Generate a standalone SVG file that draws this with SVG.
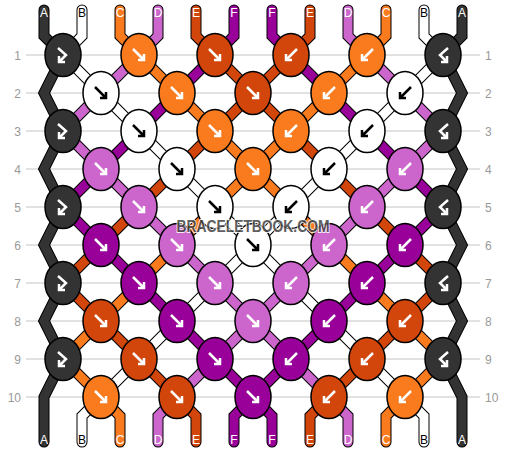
<svg xmlns="http://www.w3.org/2000/svg" width="506" height="452" viewBox="0 0 506 452">
<style>
.grid{stroke:#c4c4c4;stroke-width:1}
.num{font-family:"Liberation Sans",Arial,sans-serif;font-size:12px;fill:#999}
.nl{text-anchor:end}
.ol{fill:none;stroke:#000;stroke-width:11;stroke-linecap:round;stroke-linejoin:miter}
.st{fill:none;stroke-width:9;stroke-linecap:round;stroke-linejoin:miter}
.k{stroke:#000;stroke-width:1.5}
.lbl{font-family:"Liberation Sans",Arial,sans-serif;font-size:12px;text-anchor:middle;fill:#fff}
.lb{fill:#000}
.aw{fill:none;stroke:#fff;stroke-width:2.5}
.ab{fill:none;stroke:#000;stroke-width:2.5}
.sA{stroke:#333}.sB{stroke:#fff}.sC{stroke:#f97b1e}.sD{stroke:#cc66cc}.sE{stroke:#d2460c}.sF{stroke:#990099}
.cA{fill:#333}.cB{fill:#fff}.cC{fill:#f97b1e}.cD{fill:#cc66cc}.cE{fill:#d2460c}.cF{fill:#990099}
.wm{font-family:"Liberation Sans",Arial,sans-serif;font-weight:bold;font-size:17px;fill:#444;stroke:#fff;stroke-width:2;paint-order:stroke;opacity:0.85}
</style>
<defs>
<path id="fw" d="M-6,-6L5,5M-1,5H5V-1"/>
<path id="bw" d="M6,-6L-5,5M1,5H-5V-1"/>
<path id="fb" d="M-5,-7L3,0L-4,7M-4,1V7H2"/>
<path id="bf" d="M5,-7L-3,0L4,7M4,1V7H-2"/>
<ellipse id="kn" cx="0" cy="0" rx="18" ry="21.5"/>
</defs>
<g id="grid">
<line class="grid" x1="26" y1="55" x2="480" y2="55"/>
<line class="grid" x1="26" y1="93" x2="480" y2="93"/>
<line class="grid" x1="26" y1="131" x2="480" y2="131"/>
<line class="grid" x1="26" y1="169" x2="480" y2="169"/>
<line class="grid" x1="26" y1="207" x2="480" y2="207"/>
<line class="grid" x1="26" y1="245" x2="480" y2="245"/>
<line class="grid" x1="26" y1="283" x2="480" y2="283"/>
<line class="grid" x1="26" y1="321" x2="480" y2="321"/>
<line class="grid" x1="26" y1="359" x2="480" y2="359"/>
<line class="grid" x1="26" y1="397" x2="480" y2="397"/>
<text class="num nl" x="21" y="59.5">1</text><text class="num" x="485" y="59.5">1</text>
<text class="num nl" x="21" y="97.5">2</text><text class="num" x="485" y="97.5">2</text>
<text class="num nl" x="21" y="135.5">3</text><text class="num" x="485" y="135.5">3</text>
<text class="num nl" x="21" y="173.5">4</text><text class="num" x="485" y="173.5">4</text>
<text class="num nl" x="21" y="211.5">5</text><text class="num" x="485" y="211.5">5</text>
<text class="num nl" x="21" y="249.5">6</text><text class="num" x="485" y="249.5">6</text>
<text class="num nl" x="21" y="287.5">7</text><text class="num" x="485" y="287.5">7</text>
<text class="num nl" x="21" y="325.5">8</text><text class="num" x="485" y="325.5">8</text>
<text class="num nl" x="21" y="363.5">9</text><text class="num" x="485" y="363.5">9</text>
<text class="num nl" x="21" y="401.5">10</text><text class="num" x="485" y="401.5">10</text>
</g>
<g id="connectors">
<g class="ol">
<path id="oA1" d="M44,10V36L63,55L44,93L63,131L44,169L63,207L44,245L63,283L44,321L63,359L44,397V442"/>
<path d="M462,10V36L443,55L462,93L443,131L462,169L443,207L462,245L443,283L462,321L443,359L462,397V442"/>
<path d="M82,10V36L63,55L101,93L139,131L177,169L215,207L253,245L291,283L329,321L367,359L405,397L424,416V442"/>
<path d="M424,10V36L443,55L405,93L367,131L329,169L291,207L253,245L215,283L177,321L139,359L101,397L82,416V442"/>
<path d="M120,10V36L139,55L177,93L215,131L253,169L291,207L329,245L367,283L405,321L443,359L405,397L386,416V442"/>
<path d="M386,10V36L367,55L329,93L291,131L253,169L215,207L177,245L139,283L101,321L63,359L101,397L120,416V442"/>
<path d="M158,10V36L139,55L101,93L63,131L101,169L139,207L177,245L215,283L253,321L291,359L329,397L348,416V442"/>
<path d="M348,10V36L367,55L405,93L443,131L405,169L367,207L329,245L291,283L253,321L215,359L177,397L158,416V442"/>
<path d="M196,10V36L215,55L253,93L291,131L329,169L367,207L405,245L443,283L405,321L367,359L329,397L310,416V442"/>
<path d="M310,10V36L291,55L253,93L215,131L177,169L139,207L101,245L63,283L101,321L139,359L177,397L196,416V442"/>
<path d="M234,10V36L215,55L177,93L139,131L101,169L63,207L101,245L139,283L177,321L215,359L253,397L272,416V442"/>
<path d="M272,10V36L291,55L329,93L367,131L405,169L443,207L405,245L367,283L329,321L291,359L253,397L234,416V442"/>
</g>
<path class="st sA" d="M44,10V36L63,55L44,93L63,131L44,169L63,207L44,245L63,283L44,321L63,359L44,397V442"/>
<path class="st sA" d="M462,10V36L443,55L462,93L443,131L462,169L443,207L462,245L443,283L462,321L443,359L462,397V442"/>
<path class="st sB" d="M82,10V36L63,55L101,93L139,131L177,169L215,207L253,245L291,283L329,321L367,359L405,397L424,416V442"/>
<path class="st sB" d="M424,10V36L443,55L405,93L367,131L329,169L291,207L253,245L215,283L177,321L139,359L101,397L82,416V442"/>
<path class="st sC" d="M120,10V36L139,55L177,93L215,131L253,169L291,207L329,245L367,283L405,321L443,359L405,397L386,416V442"/>
<path class="st sC" d="M386,10V36L367,55L329,93L291,131L253,169L215,207L177,245L139,283L101,321L63,359L101,397L120,416V442"/>
<path class="st sD" d="M158,10V36L139,55L101,93L63,131L101,169L139,207L177,245L215,283L253,321L291,359L329,397L348,416V442"/>
<path class="st sD" d="M348,10V36L367,55L405,93L443,131L405,169L367,207L329,245L291,283L253,321L215,359L177,397L158,416V442"/>
<path class="st sE" d="M196,10V36L215,55L253,93L291,131L329,169L367,207L405,245L443,283L405,321L367,359L329,397L310,416V442"/>
<path class="st sE" d="M310,10V36L291,55L253,93L215,131L177,169L139,207L101,245L63,283L101,321L139,359L177,397L196,416V442"/>
<path class="st sF" d="M234,10V36L215,55L177,93L139,131L101,169L63,207L101,245L139,283L177,321L215,359L253,397L272,416V442"/>
<path class="st sF" d="M272,10V36L291,55L329,93L367,131L405,169L443,207L405,245L367,283L329,321L291,359L253,397L234,416V442"/>
</g>
<g id="labels">
<text class="lbl" x="44" y="17">A</text><text class="lbl lb" x="82" y="17">B</text><text class="lbl" x="120" y="17">C</text><text class="lbl" x="158" y="17">D</text><text class="lbl" x="196" y="17">E</text><text class="lbl" x="234" y="17">F</text>
<text class="lbl" x="272" y="17">F</text><text class="lbl" x="310" y="17">E</text><text class="lbl" x="348" y="17">D</text><text class="lbl" x="386" y="17">C</text><text class="lbl lb" x="424" y="17">B</text><text class="lbl" x="462" y="17">A</text>
<text class="lbl" x="44" y="444">A</text><text class="lbl lb" x="82" y="444">B</text><text class="lbl" x="120" y="444">C</text><text class="lbl" x="158" y="444">D</text><text class="lbl" x="196" y="444">E</text><text class="lbl" x="234" y="444">F</text>
<text class="lbl" x="272" y="444">F</text><text class="lbl" x="310" y="444">E</text><text class="lbl" x="348" y="444">D</text><text class="lbl" x="386" y="444">C</text><text class="lbl lb" x="424" y="444">B</text><text class="lbl" x="462" y="444">A</text>
</g>
<g id="knots">
<g id="k1-1"><use href="#kn" x="63" y="55" class="k cA"/><use href="#fb" x="63" y="55" class="aw"/></g>
<g id="k1-2"><use href="#kn" x="139" y="55" class="k cC"/><use href="#fw" x="139" y="55" class="aw"/></g>
<g id="k1-3"><use href="#kn" x="215" y="55" class="k cE"/><use href="#fw" x="215" y="55" class="aw"/></g>
<g id="k1-4"><use href="#kn" x="291" y="55" class="k cE"/><use href="#bw" x="291" y="55" class="aw"/></g>
<g id="k1-5"><use href="#kn" x="367" y="55" class="k cC"/><use href="#bw" x="367" y="55" class="aw"/></g>
<g id="k1-6"><use href="#kn" x="443" y="55" class="k cA"/><use href="#bf" x="443" y="55" class="aw"/></g>
<g id="k2-1"><use href="#kn" x="101" y="93" class="k cB"/><use href="#fw" x="101" y="93" class="ab"/></g>
<g id="k2-2"><use href="#kn" x="177" y="93" class="k cC"/><use href="#fw" x="177" y="93" class="aw"/></g>
<g id="k2-3"><use href="#kn" x="253" y="93" class="k cE"/><use href="#fw" x="253" y="93" class="aw"/></g>
<g id="k2-4"><use href="#kn" x="329" y="93" class="k cC"/><use href="#bw" x="329" y="93" class="aw"/></g>
<g id="k2-5"><use href="#kn" x="405" y="93" class="k cB"/><use href="#bw" x="405" y="93" class="ab"/></g>
<g id="k3-1"><use href="#kn" x="63" y="131" class="k cA"/><use href="#fb" x="63" y="131" class="aw"/></g>
<g id="k3-2"><use href="#kn" x="139" y="131" class="k cB"/><use href="#fw" x="139" y="131" class="ab"/></g>
<g id="k3-3"><use href="#kn" x="215" y="131" class="k cC"/><use href="#fw" x="215" y="131" class="aw"/></g>
<g id="k3-4"><use href="#kn" x="291" y="131" class="k cC"/><use href="#bw" x="291" y="131" class="aw"/></g>
<g id="k3-5"><use href="#kn" x="367" y="131" class="k cB"/><use href="#bw" x="367" y="131" class="ab"/></g>
<g id="k3-6"><use href="#kn" x="443" y="131" class="k cA"/><use href="#bf" x="443" y="131" class="aw"/></g>
<g id="k4-1"><use href="#kn" x="101" y="169" class="k cD"/><use href="#fw" x="101" y="169" class="aw"/></g>
<g id="k4-2"><use href="#kn" x="177" y="169" class="k cB"/><use href="#fw" x="177" y="169" class="ab"/></g>
<g id="k4-3"><use href="#kn" x="253" y="169" class="k cC"/><use href="#fw" x="253" y="169" class="aw"/></g>
<g id="k4-4"><use href="#kn" x="329" y="169" class="k cB"/><use href="#bw" x="329" y="169" class="ab"/></g>
<g id="k4-5"><use href="#kn" x="405" y="169" class="k cD"/><use href="#bw" x="405" y="169" class="aw"/></g>
<g id="k5-1"><use href="#kn" x="63" y="207" class="k cA"/><use href="#fb" x="63" y="207" class="aw"/></g>
<g id="k5-2"><use href="#kn" x="139" y="207" class="k cD"/><use href="#fw" x="139" y="207" class="aw"/></g>
<g id="k5-3"><use href="#kn" x="215" y="207" class="k cB"/><use href="#fw" x="215" y="207" class="ab"/></g>
<g id="k5-4"><use href="#kn" x="291" y="207" class="k cB"/><use href="#bw" x="291" y="207" class="ab"/></g>
<g id="k5-5"><use href="#kn" x="367" y="207" class="k cD"/><use href="#bw" x="367" y="207" class="aw"/></g>
<g id="k5-6"><use href="#kn" x="443" y="207" class="k cA"/><use href="#bf" x="443" y="207" class="aw"/></g>
<g id="k6-1"><use href="#kn" x="101" y="245" class="k cF"/><use href="#fw" x="101" y="245" class="aw"/></g>
<g id="k6-2"><use href="#kn" x="177" y="245" class="k cD"/><use href="#fw" x="177" y="245" class="aw"/></g>
<g id="k6-3"><use href="#kn" x="253" y="245" class="k cB"/><use href="#fw" x="253" y="245" class="ab"/></g>
<g id="k6-4"><use href="#kn" x="329" y="245" class="k cD"/><use href="#bw" x="329" y="245" class="aw"/></g>
<g id="k6-5"><use href="#kn" x="405" y="245" class="k cF"/><use href="#bw" x="405" y="245" class="aw"/></g>
<g id="k7-1"><use href="#kn" x="63" y="283" class="k cA"/><use href="#fb" x="63" y="283" class="aw"/></g>
<g id="k7-2"><use href="#kn" x="139" y="283" class="k cF"/><use href="#fw" x="139" y="283" class="aw"/></g>
<g id="k7-3"><use href="#kn" x="215" y="283" class="k cD"/><use href="#fw" x="215" y="283" class="aw"/></g>
<g id="k7-4"><use href="#kn" x="291" y="283" class="k cD"/><use href="#bw" x="291" y="283" class="aw"/></g>
<g id="k7-5"><use href="#kn" x="367" y="283" class="k cF"/><use href="#bw" x="367" y="283" class="aw"/></g>
<g id="k7-6"><use href="#kn" x="443" y="283" class="k cA"/><use href="#bf" x="443" y="283" class="aw"/></g>
<g id="k8-1"><use href="#kn" x="101" y="321" class="k cE"/><use href="#fw" x="101" y="321" class="aw"/></g>
<g id="k8-2"><use href="#kn" x="177" y="321" class="k cF"/><use href="#fw" x="177" y="321" class="aw"/></g>
<g id="k8-3"><use href="#kn" x="253" y="321" class="k cD"/><use href="#fw" x="253" y="321" class="aw"/></g>
<g id="k8-4"><use href="#kn" x="329" y="321" class="k cF"/><use href="#bw" x="329" y="321" class="aw"/></g>
<g id="k8-5"><use href="#kn" x="405" y="321" class="k cE"/><use href="#bw" x="405" y="321" class="aw"/></g>
<g id="k9-1"><use href="#kn" x="63" y="359" class="k cA"/><use href="#fb" x="63" y="359" class="aw"/></g>
<g id="k9-2"><use href="#kn" x="139" y="359" class="k cE"/><use href="#fw" x="139" y="359" class="aw"/></g>
<g id="k9-3"><use href="#kn" x="215" y="359" class="k cF"/><use href="#fw" x="215" y="359" class="aw"/></g>
<g id="k9-4"><use href="#kn" x="291" y="359" class="k cF"/><use href="#bw" x="291" y="359" class="aw"/></g>
<g id="k9-5"><use href="#kn" x="367" y="359" class="k cE"/><use href="#bw" x="367" y="359" class="aw"/></g>
<g id="k9-6"><use href="#kn" x="443" y="359" class="k cA"/><use href="#bf" x="443" y="359" class="aw"/></g>
<g id="k10-1"><use href="#kn" x="101" y="397" class="k cC"/><use href="#fw" x="101" y="397" class="aw"/></g>
<g id="k10-2"><use href="#kn" x="177" y="397" class="k cE"/><use href="#fw" x="177" y="397" class="aw"/></g>
<g id="k10-3"><use href="#kn" x="253" y="397" class="k cF"/><use href="#fw" x="253" y="397" class="aw"/></g>
<g id="k10-4"><use href="#kn" x="329" y="397" class="k cE"/><use href="#bw" x="329" y="397" class="aw"/></g>
<g id="k10-5"><use href="#kn" x="405" y="397" class="k cC"/><use href="#bw" x="405" y="397" class="aw"/></g>
</g>
<text class="wm" x="253" y="232" text-anchor="middle" textLength="153" lengthAdjust="spacingAndGlyphs">BRACELETBOOK.COM</text>
</svg>
